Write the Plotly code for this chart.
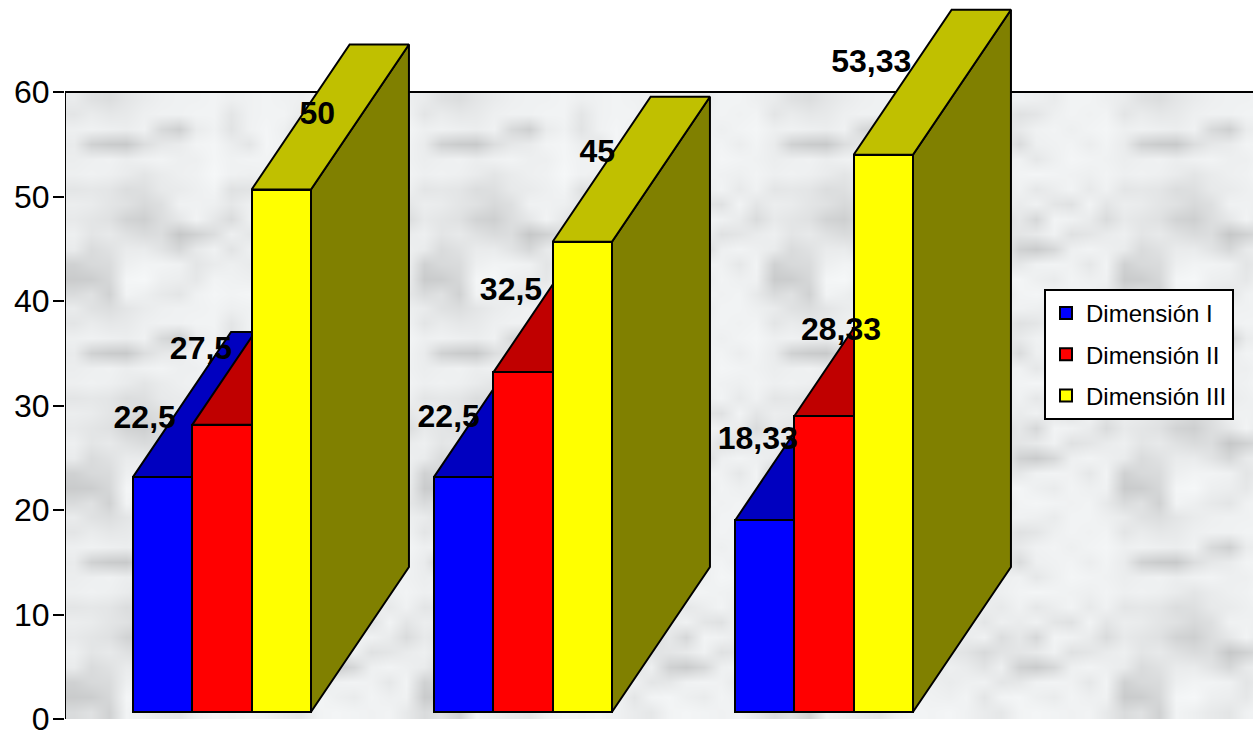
import numpy as np
import plotly.graph_objects as go

groups = [0, 1, 2]
series_names = ["Dimensión I", "Dimensión II", "Dimensión III"]
dim1 = [22.5, 22.5, 18.33]
dim2 = [27.5, 32.5, 28.33]
dim3 = [50, 45, 53.33]
tick_values = [0, 10, 20, 30, 40, 50, 60]
label_texts = [["22,5", "22,5", "18,33"], ["27,5", "32,5", "28,33"], ["50", "45", "53,33"]]

front = ["#0000FF", "#FF0000", "#FFFF00"]
top = ["#0000C0", "#C00000", "#C0C000"]
side = ["#000080", "#800000", "#808000"]

# geometry (figure pixels -> axis units)
PXX = 301.0
PXY = 10.45
X0 = -157 / PXX
X1 = 1031 / PXX
YTOP = 719 / PXY
BASE = 7 / PXY
BAR_W = 59.3 / PXX
DX = 98 / PXX
DY = 145 / PXY
# label offsets from each bar's top centre, in pixels
label_dx = [[-18, -15, -7], [-21, -12, 17], [36, 15, -12]]
label_dy = [[-57, -58, -79], [-74, -80, -84], [-74, -88, -91]]

# marble tile (grey levels), repeated behind the bars
marble_tile = [
    [236, 226, 222, 230, 236, 240, 242, 242, 244, 240, 242, 244, 242, 240, 242, 240, 236, 244, 244, 240],
    [230, 236, 232, 234, 240, 242, 242, 244, 244, 230, 242, 244, 244, 236, 226, 230, 240, 244, 242, 244],
    [240, 242, 240, 238, 242, 218, 208, 236, 242, 228, 242, 246, 240, 226, 234, 242, 244, 240, 244, 246],
    [236, 210, 204, 202, 222, 232, 236, 244, 246, 238, 230, 246, 242, 236, 220, 240, 242, 244, 238, 244],
    [238, 240, 242, 238, 242, 244, 240, 240, 246, 242, 244, 244, 242, 240, 242, 232, 240, 246, 244, 242],
    [240, 242, 240, 236, 230, 236, 240, 242, 248, 242, 240, 242, 236, 240, 244, 246, 244, 242, 240, 244],
    [230, 232, 230, 222, 224, 234, 236, 240, 244, 226, 228, 240, 238, 234, 242, 232, 238, 244, 234, 242],
    [238, 236, 230, 226, 218, 224, 242, 242, 240, 232, 240, 242, 230, 240, 236, 242, 230, 226, 244, 230],
    [234, 230, 226, 212, 208, 222, 232, 244, 232, 220, 240, 236, 242, 222, 232, 216, 244, 242, 236, 220],
    [240, 230, 234, 226, 220, 222, 200, 210, 222, 240, 232, 228, 218, 228, 230, 234, 242, 226, 230, 236],
    [236, 220, 226, 236, 236, 228, 216, 234, 242, 228, 240, 236, 228, 240, 210, 204, 216, 240, 244, 240],
    [210, 218, 220, 240, 244, 244, 242, 230, 236, 240, 236, 240, 242, 230, 232, 242, 244, 242, 232, 244],
    [204, 206, 216, 246, 248, 240, 238, 232, 244, 242, 240, 244, 230, 244, 246, 240, 236, 244, 240, 242],
    [220, 226, 210, 244, 240, 234, 230, 242, 246, 244, 246, 242, 236, 232, 244, 246, 244, 242, 244, 234],
]

fig = go.Figure()

tile = np.array(marble_tile)
big = np.tile(tile, (3, 4))
nr, nc = big.shape
cw = (350 / 20) / PXX
ch = 20 / 14
cx = X0 + cw * (np.arange(nc) + 0.5)
cy = 60 - ch * (np.arange(nr) + 0.5)
mask = cx < X1 + cw
fig.add_trace(go.Heatmap(
    x=cx[mask], y=cy, z=big[:, mask], zmin=0, zmax=255, zsmooth="best",
    colorscale=[[0, "#000000"], [1, "#fcfeff"]], showscale=False, hoverinfo="skip",
))

# plot frame
fig.add_trace(go.Scatter(
    x=[X0, X0, X1], y=[0, 60, 60], mode="lines",
    line=dict(color="black", width=2), showlegend=False, hoverinfo="skip", cliponaxis=False,
))

all_vals = [dim1, dim2, dim3]
for i, vals in enumerate(all_vals):
    off = (i - 1) * BAR_W
    xs = [g + off for g in groups]
    fig.add_trace(go.Bar(
        x=xs, y=vals, base=BASE, width=BAR_W, name=series_names[i],
        marker=dict(color=front[i], line=dict(color="black", width=2)),
        legendgroup=series_names[i], zorder=2 * i + 2, hoverinfo="y",
    ))
    for x, v in zip(xs, vals):
        xl, xr = x - BAR_W / 2, x + BAR_W / 2
        t = BASE + v
        fig.add_trace(go.Scatter(
            x=[xr, xr + DX, xr + DX, xr, xr], y=[BASE, BASE + DY, t + DY, t, BASE],
            mode="lines", fill="toself", fillcolor=side[i],
            line=dict(color="black", width=2), showlegend=False,
            legendgroup=series_names[i], zorder=2 * i + 1, hoverinfo="skip",
        ))
        fig.add_trace(go.Scatter(
            x=[xl, xl + DX, xr + DX, xr, xl], y=[t, t + DY, t + DY, t, t],
            mode="lines", fill="toself", fillcolor=top[i],
            line=dict(color="black", width=2), showlegend=False,
            legendgroup=series_names[i], zorder=2 * i + 1, hoverinfo="skip",
        ))

# value labels
for i, vals in enumerate(all_vals):
    off = (i - 1) * BAR_W
    lx = [g + off + dx / PXX for g, dx in zip(groups, label_dx[i])]
    ly = [BASE + v - dy / PXY for v, dy in zip(vals, label_dy[i])]
    fig.add_trace(go.Scatter(
        x=lx, y=ly, mode="text", text=label_texts[i], textposition="middle center",
        textfont=dict(family="Liberation Sans", size=32, color="black", weight="bold"),
        showlegend=False, hoverinfo="skip", zorder=20, cliponaxis=False,
    ))

fig.update_layout(
    width=1253, height=732, autosize=False,
    margin=dict(l=65, r=0, t=0, b=13, pad=0, autoexpand=False),
    paper_bgcolor="white", plot_bgcolor="white",
    barmode="overlay", bargap=0,
    font=dict(family="Liberation Sans", color="black"),
    xaxis=dict(range=[X0, X1], showgrid=False, zeroline=False, showticklabels=False,
               ticks="", showline=True, linecolor="black", linewidth=2, fixedrange=True,
               automargin=False),
    yaxis=dict(range=[0, YTOP], tickvals=tick_values, ticks="outside", ticklen=11,
               tickwidth=2, tickcolor="black", showgrid=False, zeroline=False,
               showline=False, tickfont=dict(size=32, family="Liberation Sans"),
               ticklabelstandoff=-3, ticklabeloverflow="allow", fixedrange=True,
               automargin=False),
    legend=dict(x=(1044 - 65) / 1188, xanchor="left", y=1 - 289 / 719, yanchor="top",
                xref="paper", yref="paper", bgcolor="white", bordercolor="black",
                borderwidth=2, font=dict(size=24, family="Liberation Sans", color="black"),
                traceorder="grouped", tracegroupgap=7, itemwidth=30),
)
fig.write_html("out.html", config=dict(displayModeBar=False),
               post_script="document.body.style.margin='0';document.body.style.overflow='hidden';")
